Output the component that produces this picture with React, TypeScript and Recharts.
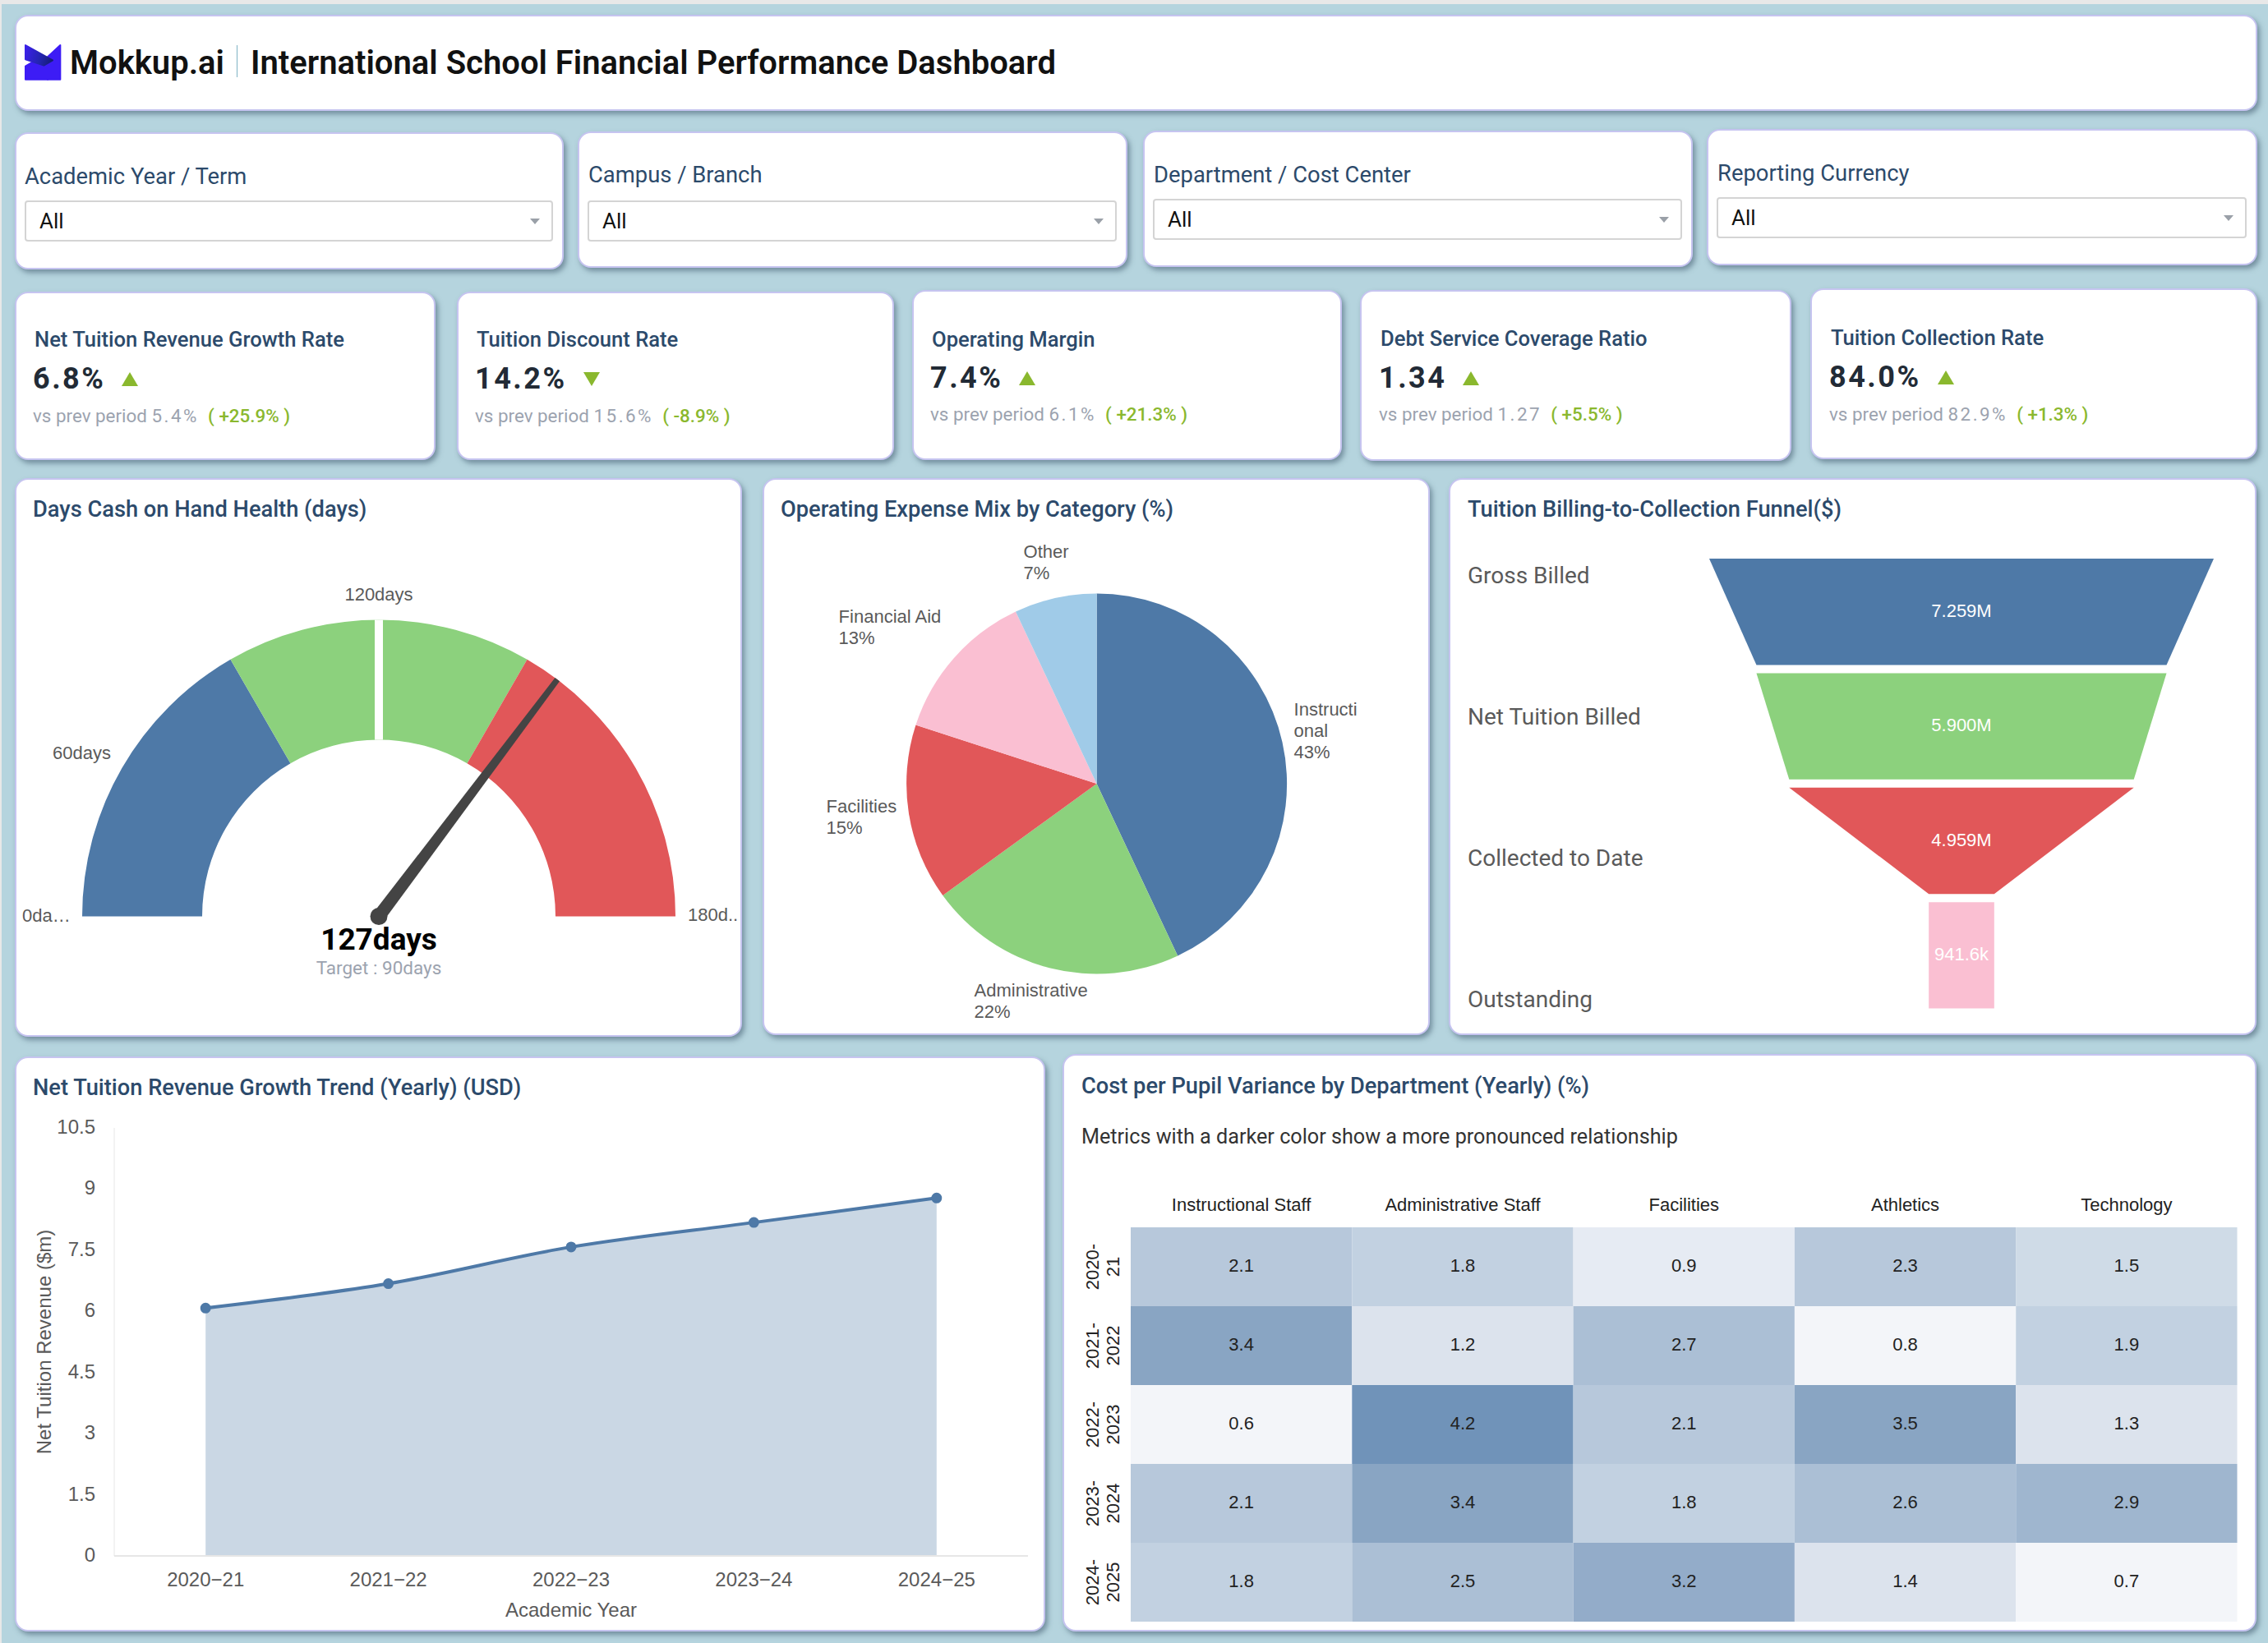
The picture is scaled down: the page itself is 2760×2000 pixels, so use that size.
import {
  Area,
  AreaChart,
  Funnel,
  FunnelChart,
  Pie,
  PieChart,
  Scatter,
  ScatterChart,
  Trapezoid,
  XAxis,
  YAxis,
} from "recharts";

// Filters
const filterLabels = ["Academic Year / Term", "Campus / Branch", "Department / Cost Center", "Reporting Currency"];
const filterBoxes = [
  { x: 20, y: 162, w: 665, h: 165, labelX: 30, labelY: 216, selectY: 244 },
  { x: 705, y: 161, w: 666, h: 164, labelX: 716, labelY: 214, selectY: 244 },
  { x: 1393, y: 160, w: 666, h: 164, labelX: 1404, labelY: 214, selectY: 242 },
  { x: 2079, y: 158, w: 667, h: 164, labelX: 2090, labelY: 212, selectY: 240 },
];

// KPI cards
const kpiTitles = [
  "Net Tuition Revenue Growth Rate",
  "Tuition Discount Rate",
  "Operating Margin",
  "Debt Service Coverage Ratio",
  "Tuition Collection Rate",
];
const kpiValues = ["6.8%", "14.2%", "7.4%", "1.34", "84.0%"];
const kpiPrev = ["5.4%", "15.6%", "6.1%", "1.27", "82.9%"];
const kpiChange = ["( +25.9% )", "( -8.9% )", "( +21.3% )", "( +5.5% )", "( +1.3% )"];
const kpiUp = [true, false, true, true, true];
const kpiBoxes = [
  { x: 20, y: 356, w: 509, h: 203, left: 42, titleY: 414, valueY: 461, subY: 506 },
  { x: 558, y: 356, w: 529, h: 203, left: 580, titleY: 414, valueY: 461, subY: 506 },
  { x: 1112, y: 354, w: 520, h: 205, left: 1134, titleY: 414, valueY: 460, subY: 504 },
  { x: 1657, y: 354, w: 522, h: 206, left: 1680, titleY: 413, valueY: 460, subY: 504 },
  { x: 2205, y: 352, w: 541, h: 206, left: 2228, titleY: 412, valueY: 459, subY: 504 },
];

// Days cash on hand gauge
const gaugeBands = [60, 60, 60];
const gaugeColors = ["#4e79a7", "#8cd17d", "#e15759"];
const gaugeValue = [127, 53];
const gaugeTarget = [90, 90];
const gaugeTicks = ["0da…", "60days", "120days", "180d.."];

// Operating expense mix
const expenseNames = ["Instructional", "Administrative", "Facilities", "Financial Aid", "Other"];
const expenseValues = [43, 22, 15, 13, 7];
const expenseColors = ["#4e79a7", "#8cd17d", "#e15759", "#fabfd2", "#a0cbe8"];
const expenseLabelLines = [
  ["Instructi", "onal", "43%"],
  ["Administrative", "22%"],
  ["Facilities", "15%"],
  ["Financial Aid", "13%"],
  ["Other", "7%"],
];
// label offsets from the pie centre
const expenseLabelOffsets = [
  [240, -83],
  [-149, 259],
  [-329, 35],
  [-314, -196],
  [-89, -275],
];

// Funnel
const funnelStages = ["Gross Billed", "Net Tuition Billed", "Collected to Date", "Outstanding"];
const funnelValues = [7259000, 5900000, 4959000, 941600];
const funnelLabels = ["7.259M", "5.900M", "4.959M", "941.6k"];
const funnelColors = ["#4e79a7", "#8cd17d", "#e15759", "#fabfd2"];
const funnelLabelY = [701, 873, 1045, 1217];

// Revenue trend
const trendYears = ["2020−21", "2021−22", "2022−23", "2023−24", "2024−25"];
const trendValues = [6.08, 6.68, 7.58, 8.18, 8.78];
const trendTicks = [0, 1.5, 3, 4.5, 6, 7.5, 9, 10.5];

// Heatmap
const heatYears = ["2020-21", "2021-2022", "2022-2023", "2023-2024", "2024-2025"];
const heatDepts = ["Instructional Staff", "Administrative Staff", "Facilities", "Athletics", "Technology"];
const heatValues = [
  [2.1, 1.8, 0.9, 2.3, 1.5],
  [3.4, 1.2, 2.7, 0.8, 1.9],
  [0.6, 4.2, 2.1, 3.5, 1.3],
  [2.1, 3.4, 1.8, 2.6, 2.9],
  [1.8, 2.5, 3.2, 1.4, 0.7],
];
const heatSteps = [0.8, 0.9, 1.4, 1.5, 1.9, 2.3, 2.7, 2.9, 3.2, 3.5, 4.2];
const heatColors = [
  "#f3f5f9", "#e6ebf3", "#dce3ed", "#cfdbe7", "#c2d1e1", "#b7c8db",
  "#abbfd5", "#9fb6cf", "#93acc9", "#89a5c3", "#7093b9",
];

const SANS = "'Liberation Sans', Arial, sans-serif";
const ROBOTO = "Roboto, sans-serif";
const TITLE_COLOR = "#2c4a6b";
const LABEL_COLOR = "#5a5a5a";
const GREEN_TEXT = "#8ab82e";

const HEAT_CELL_W = 269.3;
const HEAT_CELL_H = 96;

const funnelRows = funnelStages.map((name, i) => ({
  name,
  value: funnelValues[i],
  label: funnelLabels[i],
  fill: funnelColors[i],
}));
const trendRows = trendYears.map((year, i) => ({ year, value: trendValues[i] }));
const heatRows = heatYears.flatMap((year, r) =>
  heatDepts.map((dept, c) => ({ year, dept, value: heatValues[r][c] })),
);

function Card({ x, y, w, h, children }: any) {
  return (
    <div
      style={{
        position: "absolute",
        left: x - 2,
        top: y - 1,
        width: w + 3,
        height: h + 2,
        boxSizing: "border-box",
        background: "#fff",
        border: "2px solid #c6c4f0",
        borderRadius: 16,
        boxShadow: "3px 4px 6px rgba(60,85,105,0.55)",
      }}
    >
      {children}
    </div>
  );
}

// text placed by its vertical centre
function Txt({ x, y, size, color, weight, font, align, spacing, children }: any) {
  const shift = align === "center" ? "-50%" : align === "right" ? "-100%" : "0";
  return (
    <div
      style={{
        position: "absolute",
        left: x,
        top: y,
        transform: `translate(${shift}, -50%)`,
        fontFamily: font || ROBOTO,
        fontSize: size,
        fontWeight: weight || 400,
        color,
        letterSpacing: spacing,
        whiteSpace: "pre",
        lineHeight: 1,
      }}
    >
      {children}
    </div>
  );
}

function Select({ x, y, w }: any) {
  return (
    <div
      style={{
        position: "absolute",
        left: x,
        top: y,
        width: w,
        height: 50,
        boxSizing: "border-box",
        border: "2px solid #d4d4d4",
        borderRadius: 4,
        background: "#fff",
      }}
    >
      <Txt x={16} y={23} size={26} color="#111">All</Txt>
      <div
        style={{
          position: "absolute",
          left: w - 30,
          top: 20,
          width: 0,
          height: 0,
          borderLeft: "6px solid transparent",
          borderRight: "6px solid transparent",
          borderTop: "7px solid #9aa0a8",
        }}
      />
    </div>
  );
}

function Kpi({ i }: { i: number }) {
  const b = kpiBoxes[i];
  const up = kpiUp[i];
  return (
    <>
      <Card x={b.x} y={b.y} w={b.w} h={b.h} />
      <Txt x={b.left} y={b.titleY} size={25.6} weight={500} color={TITLE_COLOR}>{kpiTitles[i]}</Txt>
      <Txt x={b.left - 2} y={b.valueY} size={36} weight={700} color="#222b36" spacing={2.5}>
        <span style={{ display: "inline-flex", alignItems: "center" }}>
          {kpiValues[i]}
          <span
            style={{
              display: "inline-block",
              marginLeft: 20,
              width: 0,
              height: 0,
              borderLeft: "10px solid transparent",
              borderRight: "10px solid transparent",
              borderBottom: up ? `17px solid ${GREEN_TEXT}` : undefined,
              borderTop: up ? undefined : `17px solid ${GREEN_TEXT}`,
            }}
          />
        </span>
      </Txt>
      <Txt x={b.left - 2} y={b.subY} size={22.4} color="#9ca3af">
        vs prev period <span style={{ letterSpacing: 2.5 }}>{kpiPrev[i]}</span>{"  "}
        <span style={{ color: GREEN_TEXT, fontWeight: 500 }}>{kpiChange[i]}</span>
      </Txt>
    </>
  );
}

function GaugeChart() {
  const lineLabel = (p: any, draw: (a: number, p: any) => any) =>
    p.index === 0 ? draw(p.endAngle, p) : null;
  const targetLine = (a: number, p: any) => {
    const rad = (a * Math.PI) / 180;
    return (
      <line
        x1={p.cx + p.innerRadius * Math.cos(rad)}
        y1={p.cy - p.innerRadius * Math.sin(rad)}
        x2={p.cx + p.outerRadius * Math.cos(rad)}
        y2={p.cy - p.outerRadius * Math.sin(rad)}
        stroke="#ffffff"
        strokeWidth={10}
      />
    );
  };
  const needle = (a: number, p: any) => {
    const rad = (a * Math.PI) / 180;
    const ux = Math.cos(rad);
    const uy = -Math.sin(rad);
    const tipX = p.cx + p.outerRadius * ux;
    const tipY = p.cy + p.outerRadius * uy;
    const pts = [
      [p.cx - 8 * uy, p.cy + 8 * ux],
      [tipX - 3.5 * uy, tipY + 3.5 * ux],
      [tipX + 3.5 * uy, tipY - 3.5 * ux],
      [p.cx + 8 * uy, p.cy - 8 * ux],
    ];
    return (
      <g>
        <polygon points={pts.map((q) => q.join(",")).join(" ")} fill="#444444" />
        <circle cx={p.cx} cy={p.cy} r={10.5} fill="#444444" />
      </g>
    );
  };
  return (
    <PieChart width={882} height={678} margin={{ top: 0, right: 0, bottom: 0, left: 0 }}>
      <Pie
        data={gaugeBands.map((value, i) => ({ value, fill: gaugeColors[i] }))}
        dataKey="value"
        cx={441}
        cy={532.5}
        startAngle={180}
        endAngle={0}
        innerRadius={215}
        outerRadius={361}
        stroke="none"
        isAnimationActive={false}
      />
      <Pie
        data={gaugeTarget.map((value) => ({ value }))}
        dataKey="value"
        cx={441}
        cy={532.5}
        startAngle={180}
        endAngle={0}
        innerRadius={215}
        outerRadius={361}
        fill="none"
        stroke="none"
        labelLine={false}
        label={(p: any) => lineLabel(p, targetLine)}
        isAnimationActive={false}
      />
      <Pie
        data={gaugeValue.map((value) => ({ value }))}
        dataKey="value"
        cx={441}
        cy={532.5}
        startAngle={180}
        endAngle={0}
        innerRadius={0}
        outerRadius={361}
        fill="none"
        stroke="none"
        labelLine={false}
        label={(p: any) => lineLabel(p, needle)}
        isAnimationActive={false}
      />
    </PieChart>
  );
}

function ExpensePie() {
  const renderLabel = (p: any) => {
    const [dx, dy] = expenseLabelOffsets[p.index];
    return (
      <text x={p.cx + dx} y={p.cy + dy} fill={LABEL_COLOR} fontFamily={SANS} fontSize={22} textAnchor="start">
        {expenseLabelLines[p.index].map((line, i) => (
          <tspan key={i} x={p.cx + dx} dy={i === 0 ? 0 : 26}>{line}</tspan>
        ))}
      </text>
    );
  };
  return (
    <PieChart width={809} height={676} margin={{ top: 0, right: 0, bottom: 0, left: 0 }}>
      <Pie
        data={expenseNames.map((name, i) => ({ name, value: expenseValues[i], fill: expenseColors[i] }))}
        dataKey="value"
        cx={404.6}
        cy={371}
        startAngle={90}
        endAngle={-270}
        outerRadius={231.5}
        stroke="none"
        labelLine={false}
        label={renderLabel}
        isAnimationActive={false}
      />
    </PieChart>
  );
}

function FunnelSegment(p: any) {
  const gap = 10;
  return (
    <g>
      <Trapezoid
        x={p.x}
        y={p.y}
        upperWidth={p.upperWidth}
        lowerWidth={p.lowerWidth}
        width={p.upperWidth}
        height={p.height - gap}
        fill={p.fill}
        stroke="none"
      />
      <text
        x={p.x + p.upperWidth / 2}
        y={p.y + (p.height - gap) / 2 - 1.5}
        dy="0.35em"
        textAnchor="middle"
        fill="#fff"
        fontFamily={SANS}
        fontSize={22}
      >
        {p.label ?? p.payload?.label}
      </text>
    </g>
  );
}

function TuitionFunnel() {
  return (
    <FunnelChart width={614} height={557.6} margin={{ top: 0, right: 0, bottom: 0, left: 0 }}>
      <Funnel
        data={funnelRows}
        dataKey="value"
        nameKey="name"
        lastShapeType="rectangle"
        stroke="none"
        shape={FunnelSegment}
        isAnimationActive={false}
      />
    </FunnelChart>
  );
}

function TrendChart() {
  const tick = { fill: LABEL_COLOR, fontSize: 24, fontFamily: SANS };
  return (
    <AreaChart width={1231} height={630} data={trendRows} margin={{ top: 23, right: 0, bottom: 0, left: 0 }}>
      <XAxis
        dataKey="year"
        height={86}
        padding={{ left: 111.2, right: 111.2 }}
        tick={tick}
        tickLine={false}
        tickMargin={14}
        stroke="#e6e6e6"
        strokeWidth={2}
        interval={0}
        label={{ value: "Academic Year", position: "insideBottom", offset: 12, fill: LABEL_COLOR, fontSize: 24, fontFamily: SANS }}
      />
      <YAxis
        width={119}
        domain={[0, 10.5]}
        ticks={trendTicks}
        tick={{ ...tick, dy: -1.5 }}
        tickLine={false}
        tickMargin={17}
        stroke="#e6e6e6"
        interval={0}
        label={{
          value: "Net Tuition Revenue ($m)",
          angle: -90,
          position: "center",
          dx: -26,
          fill: LABEL_COLOR,
          fontSize: 24,
          fontFamily: SANS,
        }}
      />
      <Area
        type="monotone"
        dataKey="value"
        stroke="#4e79a7"
        strokeWidth={4}
        fill="#4e79a7"
        fillOpacity={0.3}
        dot={{ r: 5.5, fill: "#4e79a7", stroke: "#4e79a7", fillOpacity: 1, strokeWidth: 2 }}
        isAnimationActive={false}
      />
    </AreaChart>
  );
}

function HeatCell({ cx, cy, payload }: any) {
  const idx = heatSteps.findIndex((s) => payload.value <= s);
  return (
    <g>
      <rect
        x={cx - HEAT_CELL_W / 2}
        y={cy - HEAT_CELL_H / 2}
        width={HEAT_CELL_W}
        height={HEAT_CELL_H}
        fill={heatColors[idx]}
      />
      <text x={cx} y={cy - 1.5} dy="0.35em" textAnchor="middle" fill="#222" fontFamily={SANS} fontSize={22}>
        {payload.value.toFixed(1)}
      </text>
    </g>
  );
}

function HeatYearTick({ x, y, payload }: any) {
  const [a, b] = payload.value.split("-");
  return (
    <text transform={`rotate(-90 ${x} ${y})`} x={x} y={y} textAnchor="middle" fill="#222" fontFamily={SANS} fontSize={22}>
      <tspan x={x} dy={-31}>{a}-</tspan>
      <tspan x={x} dy={25}>{b}</tspan>
    </text>
  );
}

function HeatMap() {
  return (
    <ScatterChart width={1427.5} height={534} margin={{ top: 0, right: 0, bottom: 0, left: 0 }}>
      <XAxis
        xAxisId={0}
        type="category"
        dataKey="dept"
        orientation="top"
        height={54}
        allowDuplicatedCategory={false}
        axisLine={false}
        tickLine={false}
        tickMargin={14}
        interval={0}
        tick={{ fill: "#222", fontSize: 22, fontFamily: SANS }}
      />
      <YAxis
        yAxisId={0}
        type="category"
        dataKey="year"
        width={81}
        reversed
        allowDuplicatedCategory={false}
        axisLine={false}
        tickLine={false}
        interval={0}
        tick={<HeatYearTick />}
      />
      <Scatter data={heatRows} shape={<HeatCell />} isAnimationActive={false} />
    </ScatterChart>
  );
}

export default function App() {
  return (
    <div style={{ position: "absolute", left: 0, top: 0, width: 2760, height: 2000, background: "#e8e8e8", overflow: "hidden" }}>
      <div style={{ position: "absolute", left: 2, top: 5, width: 2758, height: 1995, background: "#b5d4de" }} />

      {/* Header */}
      <Card x={20} y={19} w={2726} h={115} />
      <svg style={{ position: "absolute", left: 20, top: 40 }} width={80} height={70} viewBox="0 0 240 210">
        <defs>
          <linearGradient id="logoFold" gradientUnits="userSpaceOnUse" x1="30" y1="70" x2="135" y2="100">
            <stop offset="0%" stopColor="#3a20e8" />
            <stop offset="55%" stopColor="#2424b0" />
            <stop offset="100%" stopColor="#141c70" />
          </linearGradient>
        </defs>
        <g strokeLinejoin="round" strokeWidth={6}>
          <polygon points="160,45 160,170 114,170 114,88" fill="#3d1cf5" stroke="#3d1cf5" />
          <polygon points="33,122 70,100 114,112 114,170 33,170" fill="#3d1cf5" stroke="#3d1cf5" />
          <polygon points="33,45 132,100 100,119 33,97" fill="url(#logoFold)" stroke="url(#logoFold)" />
        </g>
      </svg>
      <Txt x={85} y={77} size={40} weight={600} color="#111">Mokkup.ai</Txt>
      <div style={{ position: "absolute", left: 288, top: 55, width: 1, height: 39, background: "#7fb3c4" }} />
      <Txt x={305} y={77} size={40} weight={600} color="#111">International School Financial Performance Dashboard</Txt>

      {/* Filters */}
      {filterBoxes.map((b, i) => (
        <div key={i}>
          <Card x={b.x} y={b.y} w={b.w} h={b.h} />
          <Txt x={b.labelX} y={b.labelY} size={27.4} color={TITLE_COLOR}>{filterLabels[i]}</Txt>
          <Select x={b.x + 10} y={b.selectY} w={b.w - 22} />
        </div>
      ))}

      {/* KPIs */}
      {kpiBoxes.map((_, i) => <Kpi key={i} i={i} />)}

      {/* Gauge */}
      <Card x={20} y={583} w={882} h={678} />
      <Txt x={40} y={621} size={27.25} weight={500} color={TITLE_COLOR}>Days Cash on Hand Health (days)</Txt>
      <div style={{ position: "absolute", left: 20, top: 583 }}><GaugeChart /></div>
      <Txt x={27} y={1115} size={22} color={LABEL_COLOR} font={SANS}>{gaugeTicks[0]}</Txt>
      <Txt x={64} y={917} size={22} color={LABEL_COLOR} font={SANS}>{gaugeTicks[1]}</Txt>
      <Txt x={461} y={724} size={22} color={LABEL_COLOR} font={SANS} align="center">{gaugeTicks[2]}</Txt>
      <Txt x={837} y={1114} size={22} color={LABEL_COLOR} font={SANS}>{gaugeTicks[3]}</Txt>
      <Txt x={461} y={1143} size={37} weight={700} color="#000" align="center">127days</Txt>
      <Txt x={461} y={1178} size={22.5} color="#9ca3af" align="center">Target : 90days</Txt>

      {/* Expense mix */}
      <Card x={930} y={583} w={809} h={676} />
      <Txt x={950} y={621} size={27.25} weight={500} color={TITLE_COLOR}>Operating Expense Mix by Category (%)</Txt>
      <div style={{ position: "absolute", left: 930, top: 583 }}><ExpensePie /></div>

      {/* Funnel */}
      <Card x={1765} y={583} w={980} h={676} />
      <Txt x={1786} y={621} size={27.25} weight={500} color={TITLE_COLOR}>Tuition Billing-to-Collection Funnel($)</Txt>
      {funnelStages.map((name, i) => (
        <Txt key={name} x={1786} y={funnelLabelY[i]} size={28} color={LABEL_COLOR}>{name}</Txt>
      ))}
      <div style={{ position: "absolute", left: 2080, top: 680 }}><TuitionFunnel /></div>

      {/* Trend */}
      <Card x={20} y={1287} w={1251} h={698} />
      <Txt x={40} y={1325} size={27.25} weight={500} color={TITLE_COLOR}>Net Tuition Revenue Growth Trend (Yearly) (USD)</Txt>
      <div style={{ position: "absolute", left: 20, top: 1350 }}><TrendChart /></div>

      {/* Heatmap */}
      <Card x={1295} y={1284} w={1450} h={701} />
      <Txt x={1316} y={1323} size={27.25} weight={500} color={TITLE_COLOR}>Cost per Pupil Variance by Department (Yearly) (%)</Txt>
      <Txt x={1316} y={1384} size={25.2} color="#333">Metrics with a darker color show a more pronounced relationship</Txt>
      <div style={{ position: "absolute", left: 1295, top: 1440 }}><HeatMap /></div>
    </div>
  );
}
